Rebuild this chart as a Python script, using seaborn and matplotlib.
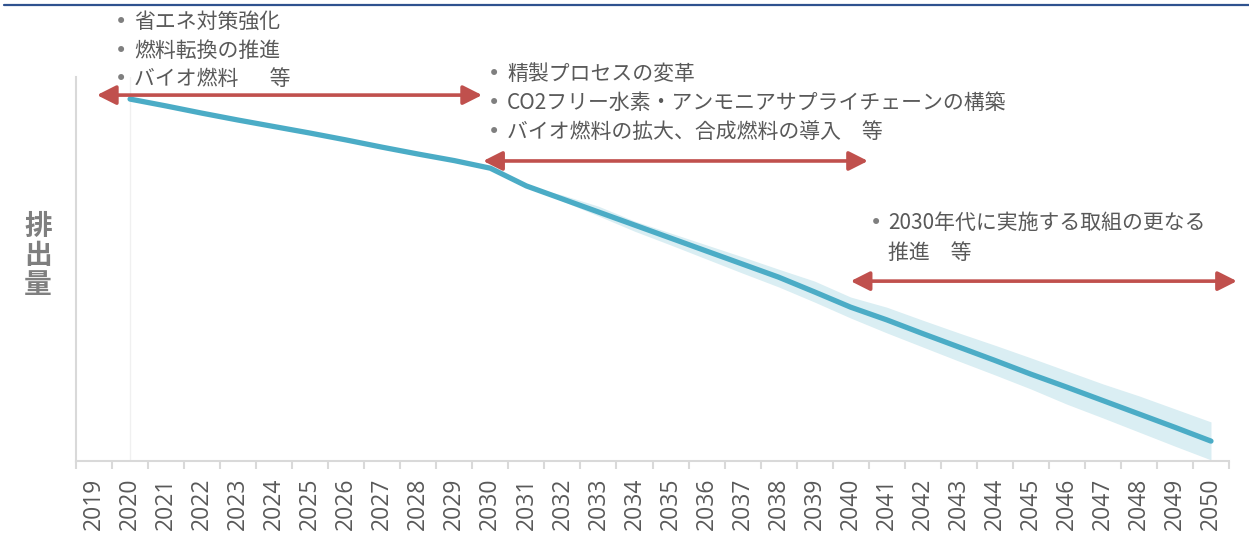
import matplotlib
matplotlib.use('Agg')
import matplotlib.pyplot as plt
import seaborn as sns
import pandas as pd

# --- data (emission index, 2020 = 100) ---
years = list(range(2019, 2051))
line_years = list(range(2020, 2051))
emissions = [100.0, 98.1, 96.1, 94.2, 92.4, 90.6, 88.7, 86.7, 84.8, 83.0,
             80.9, 76.0, 72.4, 68.8, 65.2, 61.6, 58.0, 54.4, 50.8, 46.7,
             42.5, 39.0, 35.2, 31.5, 27.8, 24.0, 20.4, 16.7, 13.0, 9.3, 5.5]
band_years = list(range(2031, 2051))
band_upper = [76.0, 73.5, 70.4, 66.3, 63.0, 59.7, 56.4, 53.0, 49.7, 45.3,
              42.5, 38.9, 35.4, 32.0, 28.5, 24.9, 21.3, 18.0, 14.4, 10.8]
band_lower = [76.0, 71.8, 67.7, 63.5, 59.7, 55.8, 51.9, 48.1, 43.9, 39.5,
              35.4, 31.5, 27.6, 23.8, 19.9, 15.7, 11.9, 8.0, 4.1, 0.3]

# arrows: (start year, end year, level)
arrow_spans = [(2019.08, 2029.77, 101.1),
               (2029.80, 2040.48, 82.9),
               (2040.00, 2050.72, 49.7)]

notes_2020s = ['省エネ対策強化', '燃料転換の推進', 'バイオ燃料\u3000\u2002等']
notes_2030s = ['精製プロセスの変革', 'CO2フリー水素・アンモニアサプライチェーンの構築',
               'バイオ燃料の拡大、合成燃料の導入\u3000等']
notes_2040s = ['2030年代に実施する取組の更なる', '推進\u3000等']
y_label = '排出量'

df = pd.DataFrame({'year': line_years, 'emission': emissions})

W, H = 1249, 542
sns.set_style('white')
plt.rcParams['font.family'] = ['Noto Sans CJK JP', 'DejaVu Sans']

GRAY = '#595959'
LINE = '#4BACC6'
BAND = '#DAEEF3'
RED = '#C0504D'
AXIS = '#D9D9D9'

fig = plt.figure(figsize=(W / 100, H / 100), dpi=100)
ax = fig.add_axes([76 / W, (H - 461) / H, (1229 - 76) / W, (461 - 77) / H])

ax.fill_between(band_years, band_lower, band_upper, color=BAND, lw=0, zorder=1)
ax.axvline(2020, color='#F0F0F0', lw=1, zorder=0)
sns.lineplot(data=df, x='year', y='emission', color=LINE, lw=3.8, ax=ax,
             zorder=3, solid_capstyle='round')

for x0, x1, lvl in arrow_spans:
    ax.annotate('', xy=(x1, lvl), xytext=(x0, lvl), annotation_clip=False,
                arrowprops=dict(arrowstyle='<|-|>,head_length=1.15,head_width=0.58',
                                mutation_scale=10, color=RED, lw=2.6,
                                shrinkA=0, shrinkB=0), zorder=4)

ax.set_xlim(years[0] - 0.5, years[-1] + 0.5)
ax.set_ylim(0, 106.1)
ax.set_xticks(years)
ax.set_xticklabels([str(y) for y in years], rotation=90, fontsize=16.5,
                   color=GRAY, family=['Open Sans', 'DejaVu Sans'])
ax.set_xticks([y - 0.5 for y in years] + [years[-1] + 0.5], minor=True)
ax.tick_params(axis='x', which='major', length=0, pad=12)
ax.tick_params(axis='x', which='minor', length=6, width=1.5, color=AXIS,
               direction='out', bottom=True)
ax.set_yticks([])
ax.set_xlabel('')
ax.set_ylabel('')
for s in ['top', 'right']:
    ax.spines[s].set_visible(False)
ax.spines['left'].set_color(AXIS)
ax.spines['left'].set_linewidth(1.5)
ax.spines['bottom'].set_color(AXIS)
ax.spines['bottom'].set_linewidth(1.5)

# top rule
fig.add_artist(plt.Line2D([4 / W, 1], [1 - 5 / H, 1 - 5 / H], color='#2F528F', lw=1.6))


def note_block(lines, bullet_x, text_x, y0, step, bullet_all=True):
    for i, txt in enumerate(lines):
        y = 1 - (y0 + i * step) / H
        if bullet_all or i == 0:
            fig.text(bullet_x / W, y, '•', fontsize=15, color='#7F7F7F',
                     ha='center', va='center', family='DejaVu Sans')
        fig.text(text_x / W, y, txt, fontsize=15, color=GRAY,
                 ha='left', va='center')


note_block(notes_2020s, 121, 134, 22, 28.5)
note_block(notes_2030s, 494, 507, 74, 29)
note_block(notes_2040s, 876, 888, 223, 30, bullet_all=False)

fig.text(38 / W, 1 - 256 / H, '\n'.join(y_label), fontsize=20, fontweight='bold',
         color='#7F7F7F', ha='center', va='center', linespacing=1.05)

fig.savefig('out.png', dpi=100)
